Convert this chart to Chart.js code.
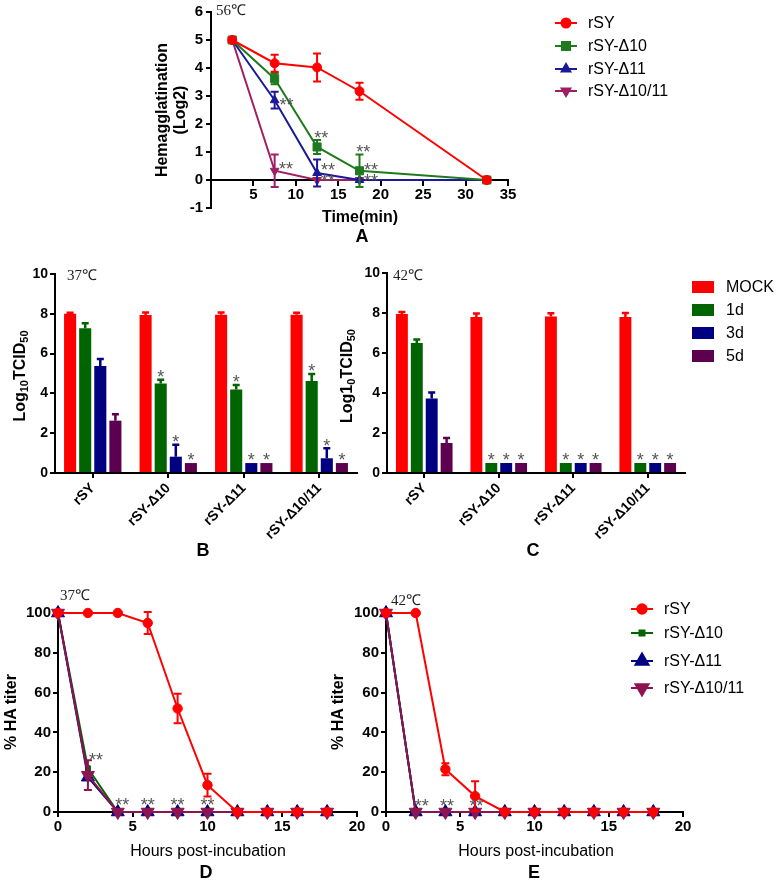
<!DOCTYPE html>
<html>
<head>
<meta charset="utf-8">
<script src="https://cdn.jsdelivr.net/npm/chart.js@4.4.1/dist/chart.umd.min.js"></script>
<style>
  html, body { margin: 0; padding: 0; background: #fff; }
  #page { position: relative; width: 777px; height: 882px; overflow: hidden;
          font-family: Arial, 'Liberation Sans', sans-serif; color: #000; }
  #page canvas { position: absolute; left: 0; top: 0; }
  .t { position: absolute; white-space: nowrap; line-height: 1; transform: translate(-50%, -50%); }
  .l { position: absolute; white-space: nowrap; line-height: 1; transform: translateY(-50%); }
  .bold16 { font-weight: bold; font-size: 16px; }
  .rot { transform: translate(-50%, -50%) rotate(-90deg); }
  .letter { font-weight: bold; font-size: 18px; }
  .norm16 { font-size: 16px; }
  .temp { font-family: 'Times New Roman', 'Liberation Serif', serif; font-size: 15px; color: #222; }
  sub { font-size: 11px; vertical-align: -3px; line-height: 0; }
</style>
</head>
<body>
<div id="page">
  <canvas id="chartA" width="777" height="882"></canvas>
  <canvas id="chartB" width="777" height="882"></canvas>
  <canvas id="chartC" width="777" height="882"></canvas>
  <canvas id="chartD" width="777" height="882"></canvas>
  <canvas id="chartE" width="777" height="882"></canvas>

  <!-- panel A texts -->
  <div class="l temp" style="left:216px;top:10px">56℃</div>
  <div class="t rot bold16" style="left:162px;top:110px">Hemagglatination</div>
  <div class="t rot bold16" style="left:180px;top:110px">(Log2)</div>
  <div class="t bold16" style="left:360px;top:217px">Time(min)</div>
  <div class="t letter" style="left:362px;top:236px">A</div>
  <div class="l norm16" style="left:588px;top:23px">rSY</div>
  <div class="l norm16" style="left:588px;top:46px">rSY-Δ10</div>
  <div class="l norm16" style="left:588px;top:69px">rSY-Δ11</div>
  <div class="l norm16" style="left:588px;top:91px">rSY-Δ10/11</div>

  <!-- panels B / C texts -->
  <div class="l temp" style="left:67px;top:275px">37℃</div>
  <div class="l temp" style="left:393px;top:275px">42℃</div>
  <div class="t rot bold16" style="left:20px;top:376px">Log<sub>10</sub>TCID<sub>50</sub></div>
  <div class="t rot bold16" style="left:347px;top:376px">Log1<sub>0</sub>TCID<sub>50</sub></div>
  <div class="t letter" style="left:203px;top:550px">B</div>
  <div class="t letter" style="left:533px;top:550px">C</div>
  <div class="l norm16" style="left:726px;top:287px">MOCK</div>
  <div class="l norm16" style="left:726px;top:310px">1d</div>
  <div class="l norm16" style="left:726px;top:333px">3d</div>
  <div class="l norm16" style="left:726px;top:356px">5d</div>

  <!-- panels D / E texts -->
  <div class="l temp" style="left:60px;top:595px">37℃</div>
  <div class="l temp" style="left:391px;top:600px">42℃</div>
  <div class="t rot bold16" style="left:11px;top:712px">% HA titer</div>
  <div class="t rot bold16" style="left:338px;top:712px">% HA titer</div>
  <div class="t norm16" style="left:208px;top:851px">Hours post-incubation</div>
  <div class="t norm16" style="left:536px;top:851px">Hours post-incubation</div>
  <div class="t letter" style="left:206px;top:872px">D</div>
  <div class="t letter" style="left:534px;top:872px">E</div>
  <div class="l norm16" style="left:664px;top:609px">rSY</div>
  <div class="l norm16" style="left:664px;top:633px">rSY-Δ10</div>
  <div class="l norm16" style="left:664px;top:661px">rSY-Δ11</div>
  <div class="l norm16" style="left:664px;top:688px">rSY-Δ10/11</div>
</div>

<script>
// ---- A: hemagglutination at 56℃ (log2) ----
const timeMin = [2.5, 7.5, 12.5, 17.5, 32.5];
const haRSY = [5, 4.17, 4.02, 3.17, 0];
const haRSYErr = [0, 0.3, 0.5, 0.3, 0];
const haD10 = [5, 3.62, 1.18, 0.33, 0];
const haD10Err = [0, 0.2, 0.25, 0.58, 0];
const haD11 = [5, 2.85, 0.25, 0, 0];
const haD11Err = [0, 0.3, 0.48, 0, 0];
const haD1011 = [5, 0.33, 0, 0, 0];
const haD1011Err = [0, 0.58, 0, 0, 0];
// "**" marks (time, log2)
const starAX = [8.9, 13.0, 13.8, 13.8, 8.85, 17.95, 18.85, 18.85];
const starAY = [2.82, 1.65, 0.5, 0.12, 0.53, 1.14, 0.5, 0.12];

// ---- B / C: Log10 TCID50 ----
const strains = ['rSY', 'rSY-Δ10', 'rSY-Δ11', 'rSY-Δ10/11'];
const b37Mock = [8.0, 7.94, 7.95, 7.95];
const b37MockErr = [0.05, 0.13, 0.12, 0.1];
const b37Day1 = [7.27, 4.5, 4.2, 4.62];
const b37Day1Err = [0.25, 0.19, 0.22, 0.35];
const b37Day3 = [5.38, 0.82, 0.5, 0.74];
const b37Day3Err = [0.35, 0.6, 0, 0.5];
const b37Day5 = [2.63, 0.5, 0.5, 0.5];
const b37Day5Err = [0.32, 0, 0, 0];
const c42Mock = [7.95, 7.8, 7.82, 7.8];
const c42MockErr = [0.1, 0.17, 0.17, 0.2];
const c42Day1 = [6.5, 0.5, 0.5, 0.5];
const c42Day1Err = [0.17, 0, 0, 0];
const c42Day3 = [3.72, 0.5, 0.5, 0.5];
const c42Day3Err = [0.3, 0, 0, 0];
const c42Day5 = [1.5, 0.5, 0.5, 0.5];
const c42Day5Err = [0.25, 0, 0, 0];
const noStar = [false, false, false, false];
const sigStar = [false, true, true, true];

// ---- D / E: % HA titer ----
const hours = [0, 2, 4, 6, 8, 10, 12, 14, 16, 18];
const zeros = [0, 0, 0, 0, 0, 0, 0, 0, 0, 0];
const d37RSY = [100, 100, 100, 95, 52, 13.5, 0, 0, 0, 0];
const d37RSYErr = [0, 0, 0, 5.5, 7.4, 5.7, 0, 0, 0, 0];
const d37D10 = [100, 22, 0, 0, 0, 0, 0, 0, 0, 0];
const d37D11 = [100, 17.5, 0, 0, 0, 0, 0, 0, 0, 0];
const d37D1011 = [100, 18.5, 0, 0, 0, 0, 0, 0, 0, 0];
const d37D1011Err = [0, 7.5, 0, 0, 0, 0, 0, 0, 0, 0];
const e42RSY = [100, 100, 21.5, 8, 0, 0, 0, 0, 0, 0];
const e42RSYErr = [0, 0, 3, 7.5, 0, 0, 0, 0, 0, 0];
const e42D10 = [100, 0, 0, 0, 0, 0, 0, 0, 0, 0];
const e42D11 = [100, 0, 0, 0, 0, 0, 0, 0, 0, 0];
const e42D1011 = [100, 0, 0, 0, 0, 0, 0, 0, 0, 0];
const starDX = [2.55, 4.3, 6, 8, 10];
const starDY = [28.5, 5.5, 5.5, 5.5, 5.5];
const starEX = [2.4, 4.1, 6.1];
const starEY = [5.2, 5.2, 5.2];

const FONT = "Arial, 'Liberation Sans', sans-serif";
const Y_BOX = 50;   // fixed width of every y scale box
const X_BOX = 80;   // fixed height of every bottom x scale box

// error bars, drawn under each line dataset / on top of each bar
function drawErrors(chart, index) {
  const ds = chart.data.datasets[index];
  if (!ds.errors) return;
  const meta = chart.getDatasetMeta(index);
  const yScale = chart.scales[meta.yAxisID];
  const ctx = chart.ctx;
  const upOnly = ds.errorUpOnly;
  const c = ds.capHalf || 4;
  ctx.save();
  ctx.strokeStyle = upOnly ? ds.backgroundColor : ds.borderColor;
  ctx.lineWidth = ds.errorWidth || 2;
  meta.data.forEach((el, i) => {
    const e = ds.errors[i];
    if (!e) return;
    const d = ds.data[i];
    const v = typeof d === 'object' ? d.y : d;
    const x = el.x;
    const yTop = yScale.getPixelForValue(v + e);
    const yBot = upOnly ? el.y : yScale.getPixelForValue(v - e);
    ctx.beginPath();
    ctx.moveTo(x, yTop); ctx.lineTo(x, yBot);
    ctx.moveTo(x - c, yTop); ctx.lineTo(x + c, yTop);
    if (!upOnly) { ctx.moveTo(x - c, yBot); ctx.lineTo(x + c, yBot); }
    ctx.stroke();
  });
  ctx.restore();
}

const errorBars = {
  id: 'errorBars',
  beforeDatasetDraw(chart, args) {
    if (chart.config.type === 'line') drawErrors(chart, args.index);
  },
  afterDatasetDraw(chart, args) {
    if (chart.config.type === 'bar') drawErrors(chart, args.index);
  }
};

const starMarks = {
  id: 'starMarks',
  afterDatasetsDraw(chart, args, opts) {
    const ctx = chart.ctx;
    const size = opts.size || 18;
    const xs = chart.scales.x, ys = chart.scales.y;
    ctx.save();
    ctx.fillStyle = '#555';
    ctx.font = size + 'px ' + FONT;
    ctx.textAlign = 'center';
    ctx.textBaseline = 'alphabetic';
    (opts.xs || []).forEach((xv, i) => {
      ctx.fillText('**', xs.getPixelForValue(xv), ys.getPixelForValue(opts.ys[i]) + size * 0.57);
    });
    chart.data.datasets.forEach((ds, di) => {
      if (!ds.stars) return;
      chart.getDatasetMeta(di).data.forEach((el, i) => {
        if (!ds.stars[i]) return;
        const top = ys.getPixelForValue(ds.data[i] + (ds.errors[i] || 0));
        ctx.fillText('*', el.x, top - 7 + size * 0.57);
      });
    });
    ctx.restore();
  }
};

const legendMarks = {
  id: 'legendMarks',
  afterDraw(chart, args, opts) {
    if (!opts.rows) return;
    const ctx = chart.ctx;
    chart.data.datasets.forEach((ds, i) => {
      const y = opts.rows[i];
      ctx.save();
      if (opts.box) {
        ctx.fillStyle = ds.backgroundColor;
        ctx.fillRect(opts.x, y - 6, opts.len, 12);
      } else {
        ctx.strokeStyle = ds.borderColor;
        ctx.lineWidth = ds.borderWidth;
        ctx.beginPath();
        ctx.moveTo(opts.x, y);
        ctx.lineTo(opts.x + opts.len, y);
        ctx.stroke();
        ctx.fillStyle = ds.pointBackgroundColor;
        ctx.strokeStyle = ds.pointBorderColor;
        Chart.helpers.drawPoint(ctx, {
          pointStyle: ds.pointStyle, rotation: ds.pointRotation || 0,
          radius: ds.pointRadius, borderWidth: 1
        }, opts.x + opts.len / 2, y);
      }
      ctx.restore();
    });
  }
};

function lineSet(label, xs, ys, errs, color, style, radius, rotation, order) {
  return {
    label: label,
    data: xs.map((x, i) => ({ x: x, y: ys[i] })),
    errors: errs,
    borderColor: color, backgroundColor: color, borderWidth: 2,
    pointStyle: style, pointRadius: radius, pointHoverRadius: radius,
    pointRotation: rotation, pointBackgroundColor: color, pointBorderColor: color,
    pointBorderWidth: 1, tension: 0, clip: false, order: order || 0,
    capHalf: 4
  };
}

function barSet(label, values, errs, stars, color) {
  return {
    label: label, data: values, errors: errs, stars: stars,
    backgroundColor: color, errorUpOnly: true, errorWidth: 2.5, capHalf: 3.5,
    categoryPercentage: 0.8, barPercentage: 0.8
  };
}

function axis(extra) {
  return Object.assign({
    grid: { display: true, drawOnChartArea: false, drawTicks: true, tickLength: 5,
            color: '#000', lineWidth: 2 },
    border: { display: true, color: '#000', width: 2 }
  }, extra);
}
function tickFont(size, extra) {
  return Object.assign({ color: '#000', padding: 2, font: { family: FONT, size: size, weight: 'bold' } }, extra);
}
const fixWidth = s => { s.width = Y_BOX; };
const fixHeight = s => { s.height = X_BOX; };

// chart area edges given in page pixels
function pad(left, top, right, bottom, bottomAxis) {
  return {
    left: left - Y_BOX,
    top: top,
    right: 777 - right,
    bottom: 882 - bottom - (bottomAxis ? X_BOX : 0)
  };
}

function opts(padding, scales, pluginOpts) {
  return {
    responsive: false,
    animation: false,
    events: [],
    layout: { padding: padding },
    scales: scales,
    plugins: Object.assign({ legend: { display: false }, tooltip: { enabled: false } }, pluginOpts)
  };
}

// ---- chart A ----
new Chart(document.getElementById('chartA'), {
  type: 'line',
  data: {
    datasets: [
      lineSet('rSY', timeMin, haRSY, haRSYErr, '#ff0000', 'circle', 4.5, 0),
      lineSet('rSY-Δ10', timeMin, haD10, haD10Err, '#1f7a1f', 'rect', 5.7, 0),
      lineSet('rSY-Δ11', timeMin, haD11, haD11Err, '#1a1a99', 'triangle', 5, 0),
      lineSet('rSY-Δ10/11', timeMin, haD1011, haD1011Err, '#a01e64', 'triangle', 5, 180)
    ]
  },
  options: opts(pad(211, 10, 508, 208, false), {
    x: axis({ type: 'linear', min: 0, max: 35, position: { y: 0 },
      ticks: tickFont(15, { padding: 1, stepSize: 5, callback: v => (v === 0 ? '' : v) }) }),
    y: axis({ min: -1, max: 6, ticks: tickFont(15, { padding: 3, stepSize: 1 }), afterFit: fixWidth })
  }, {
    starMarks: { xs: starAX, ys: starAY, size: 18 },
    legendMarks: { x: 555, len: 22, rows: [23, 46, 69, 91] }
  }),
  plugins: [errorBars, starMarks, legendMarks]
});

// ---- charts B and C ----
function barChart(id, padding, sets, legendOpts) {
  return new Chart(document.getElementById(id), {
    type: 'bar',
    data: { labels: strains, datasets: sets },
    options: opts(padding, {
      x: axis({
        grid: { display: true, drawOnChartArea: false, drawTicks: true, tickLength: 5,
                color: '#000', lineWidth: 2, offset: false },
        ticks: tickFont(14, { minRotation: 45, maxRotation: 45, autoSkip: false }),
        afterFit: fixHeight }),
      y: axis({ min: 0, max: 10, ticks: tickFont(14, { stepSize: 2 }), afterFit: fixWidth })
    }, { starMarks: { size: 18 }, legendMarks: legendOpts }),
    plugins: [errorBars, starMarks, legendMarks]
  });
}

barChart('chartB', pad(55, 274, 357, 473, true), [
  barSet('MOCK', b37Mock, b37MockErr, noStar, '#ff0000'),
  barSet('1d', b37Day1, b37Day1Err, sigStar, '#006400'),
  barSet('3d', b37Day3, b37Day3Err, sigStar, '#000080'),
  barSet('5d', b37Day5, b37Day5Err, sigStar, '#5e0050')
], {});

barChart('chartC', pad(387, 273, 685, 473, true), [
  barSet('MOCK', c42Mock, c42MockErr, noStar, '#ff0000'),
  barSet('1d', c42Day1, c42Day1Err, sigStar, '#006400'),
  barSet('3d', c42Day3, c42Day3Err, sigStar, '#000080'),
  barSet('5d', c42Day5, c42Day5Err, sigStar, '#5e0050')
], { box: true, x: 692, len: 22, rows: [287, 310, 333, 356] });

// ---- charts D and E ----
function haChart(id, padding, sets, starX, starY, legendOpts) {
  return new Chart(document.getElementById(id), {
    type: 'line',
    data: { datasets: sets },
    options: opts(padding, {
      x: axis({ type: 'linear', min: 0, max: 20, position: 'bottom',
        ticks: tickFont(15, { padding: 1, stepSize: 5 }), afterFit: fixHeight }),
      y: axis({ min: 0, max: 100, ticks: tickFont(15, { stepSize: 20 }), afterFit: fixWidth })
    }, { starMarks: { xs: starX, ys: starY, size: 18 }, legendMarks: legendOpts }),
    plugins: [errorBars, starMarks, legendMarks]
  });
}

haChart('chartD', pad(58, 613, 357, 812, true), [
  lineSet('rSY', hours, d37RSY, d37RSYErr, '#ff0000', 'circle', 4.7, 0, 0),
  lineSet('rSY-Δ10', hours, d37D10, zeros, '#006400', 'rect', 3.5, 0, 3),
  lineSet('rSY-Δ11', hours, d37D11, zeros, '#000080', 'triangle', 7.5, 0, 2),
  lineSet('rSY-Δ10/11', hours, d37D1011, d37D1011Err, '#8c1450', 'triangle', 7.5, 180, 1)
], starDX, starDY, {});

haChart('chartE', pad(386, 613, 683, 812, true), [
  lineSet('rSY', hours, e42RSY, e42RSYErr, '#ff0000', 'circle', 4.7, 0, 0),
  lineSet('rSY-Δ10', hours, e42D10, zeros, '#006400', 'rect', 3.5, 0, 3),
  lineSet('rSY-Δ11', hours, e42D11, zeros, '#000080', 'triangle', 7.5, 0, 2),
  lineSet('rSY-Δ10/11', hours, e42D1011, zeros, '#8c1450', 'triangle', 7.5, 180, 1)
], starEX, starEY, { x: 631, len: 22, rows: [609, 633, 661, 688] });
</script>
</body>
</html>
